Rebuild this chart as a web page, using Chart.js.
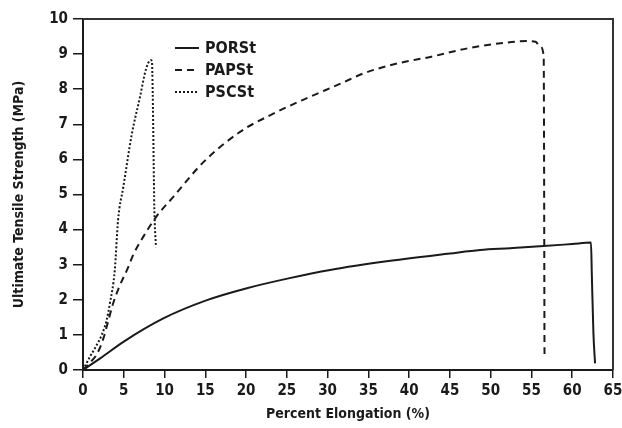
<!DOCTYPE html>
<html>
<head>
<meta charset="utf-8">
<script src="https://cdn.jsdelivr.net/npm/chart.js@4/dist/chart.umd.min.js"></script>
<style>
html,body{margin:0;padding:0;background:#fff;}
#wrap{width:622px;height:428px;}
</style>
</head>
<body>
<div id="wrap"><canvas id="c" width="622" height="428"></canvas></div>
<script>
// ---- data ----
const seriesNames = ["PORSt", "PAPSt", "PSCSt"];
const xTicks = [0,5,10,15,20,25,30,35,40,45,50,55,60,65];
const yTicks = [0,1,2,3,4,5,6,7,8,9,10];

const porX = [0, 2.1, 5, 9.85, 15.2, 20.1, 25.2, 30.3, 37.7, 45, 48.7, 52.4, 56.5, 60.0, 62.3, 62.4, 62.6, 62.8];
const porY = [0, 0.33, 0.81, 1.47, 1.99, 2.33, 2.61, 2.85, 3.11, 3.32, 3.42, 3.47, 3.53, 3.59, 3.63, 2.75, 1.04, 0.19];

const papX = [0, 0.8, 1.7, 2.5, 3.1, 3.7, 4.5, 5.4, 6.2, 7.4, 9.0, 11.1, 14.8, 19.3, 23.4, 27.4, 31.5, 34.4, 38.5, 42.6, 47.5, 51.6, 54.4, 55.5, 56.1, 56.5, 56.6];
const papY = [0, 0.2, 0.45, 0.9, 1.4, 1.9, 2.4, 2.85, 3.3, 3.8, 4.37, 4.94, 5.93, 6.79, 7.31, 7.74, 8.15, 8.45, 8.73, 8.92, 9.18, 9.32, 9.37, 9.35, 9.21, 8.93, 0.38];

const pscX = [0, 0.86, 1.68, 2.3, 2.9, 3.3, 3.9, 4.3, 4.95, 5.97, 7.0, 7.7, 8.3, 8.45, 8.55, 8.75, 8.95];
const pscY = [0, 0.38, 0.71, 1.0, 1.42, 1.9, 2.85, 4.27, 5.22, 6.7, 7.79, 8.55, 8.83, 8.8, 7.9, 4.6, 3.5];

const xTitle = "Percent Elongation (%)";
const yTitle = "Ultimate Tensile Strength (MPa)";

const FONT = "'DejaVu Sans Condensed', 'DejaVu Sans', sans-serif";
const INK = '#1a1a1a';

function pts(xs, ys){ return xs.map((x,i)=>({x:x, y:ys[i]})); }

const styles = [
  {dash: []},
  {dash: [7,5]},
  {dash: [2,2]}
];
const dataArrays = [[porX,porY],[papX,papY],[pscX,pscY]];

const framePlugin = {
  id: 'frame',
  afterDraw(chart){
    const {ctx, chartArea:a} = chart;
    ctx.save();
    ctx.strokeStyle = '#333';
    ctx.lineWidth = 2;
    ctx.beginPath();
    ctx.moveTo(a.left, a.top);
    ctx.lineTo(a.right, a.top);
    ctx.lineTo(a.right, a.bottom);
    ctx.stroke();
    // legend
    const lx = 175, lx2 = 199, tx = 205;
    const ys = [48, 70, 92];
    ctx.font = "bold 16px " + FONT;
    ctx.textBaseline = 'middle';
    ctx.textAlign = 'left';
    chart.data.datasets.forEach((ds,i)=>{
      ctx.strokeStyle = INK;
      ctx.lineWidth = 2;
      ctx.setLineDash(ds.borderDash || []);
      ctx.beginPath();
      ctx.moveTo(lx, ys[i]);
      ctx.lineTo(lx2, ys[i]);
      ctx.stroke();
      ctx.setLineDash([]);
      ctx.fillStyle = INK;
      ctx.fillText(ds.label, tx, ys[i]+1);
    });
    ctx.restore();
  }
};

new Chart(document.getElementById('c'), {
  type: 'scatter',
  data: {
    datasets: seriesNames.map((n,i)=>({
      label: n,
      data: pts(dataArrays[i][0], dataArrays[i][1]),
      showLine: true,
      borderColor: INK,
      borderWidth: 2,
      borderDash: styles[i].dash,
      pointRadius: 0,
      cubicInterpolationMode: 'monotone',
      fill: false
    }))
  },
  options: {
    responsive: false,
    animation: false,
    layout: {padding: {left: 0, top: 19, right: 9, bottom: 0}},
    plugins: {legend: {display: false}, tooltip: {enabled: false}},
    scales: {
      x: {
        type: 'linear',
        min: 0, max: 65,
        afterBuildTicks(s){ s.ticks = xTicks.map(v=>({value:v})); },
        afterFit(s){ s.height = 58; s.paddingRight = 0; s.paddingLeft = 0; },
        grid: {display: true, drawOnChartArea: false, drawTicks: true, tickLength: 8, color: INK, lineWidth: 1.5},
        border: {display: true, color: INK, width: 2},
        ticks: {color: INK, font: {family: FONT, size: 15, weight: 'bold'}, padding: 4, maxRotation: 0},
        title: {display: true, text: xTitle, color: INK, font: {family: FONT, size: 14, weight: 'bold'}, padding: {top: 0, bottom: 5}}
      },
      y: {
        type: 'linear',
        min: 0, max: 10,
        afterBuildTicks(s){ s.ticks = yTicks.map(v=>({value:v})); },
        afterFit(s){ s.width = 83; },
        grid: {display: true, drawOnChartArea: false, drawTicks: true, tickLength: 10, color: INK, lineWidth: 1.5},
        border: {display: true, color: INK, width: 2},
        ticks: {color: INK, font: {family: FONT, size: 15, weight: 'bold'}, padding: 5},
        title: {display: true, text: yTitle, color: INK, font: {family: FONT, size: 14, weight: 'bold'}, padding: {top: 11, bottom: 0}}
      }
    }
  },
  plugins: [framePlugin]
});
</script>
</body>
</html>
